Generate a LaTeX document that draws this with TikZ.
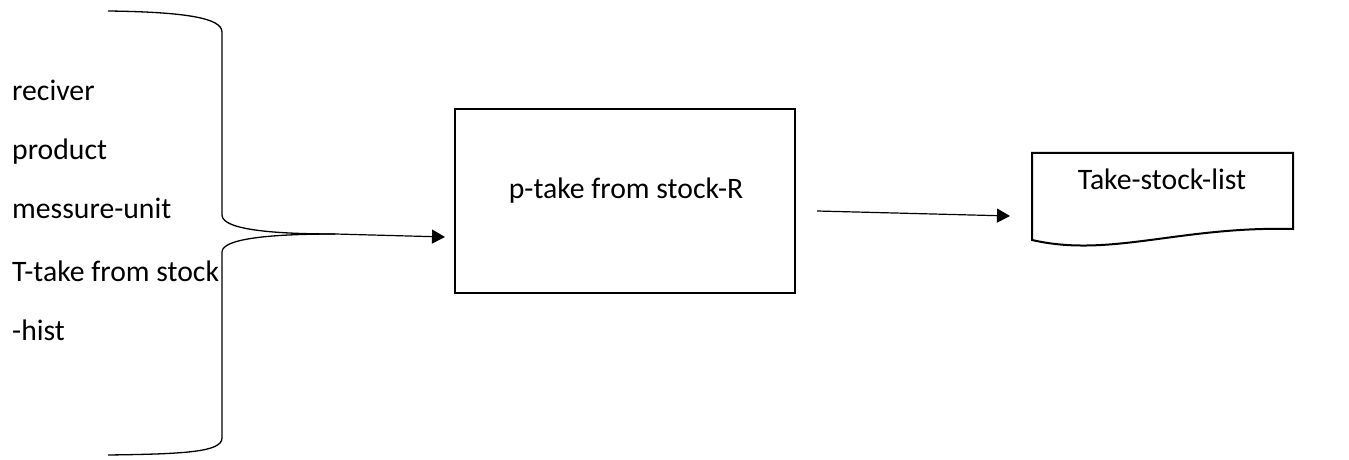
\documentclass[tikz,border=0pt]{standalone}
\usepackage{fontspec}
\setmainfont{Carlito}
\usetikzlibrary{arrows.meta}
\begin{document}
\begin{tikzpicture}[x=1pt,y=1pt,
  every node/.style={font=\fontsize{29.7}{35}\selectfont, inner sep=0pt},
  bracestyle/.style={line width=1.3pt},
  boxstyle/.style={draw, line width=2pt},
  flowarrow/.style={line width=1.2pt, -{Triangle[length=13pt,width=14pt]}},
  lbl/.style={anchor=base west}]
\useasboundingbox (0,0) rectangle (1349,460);
% brace
\coordinate (btop) at (108,449);
\coordinate (tip) at (335,226);
\coordinate (bbot) at (108,5);
\draw[bracestyle] (btop) .. controls (185,448) and (222,442) .. (222,428)
  -- (222,245) .. controls (222,230) and (275,226) .. (tip);
\draw[bracestyle] (tip) .. controls (275,226) and (222,222) .. (222,208)
  -- (222,22) .. controls (222,8) and (185,6) .. (bbot);
% labels
\node[lbl] (l1) at (12,359) {reciver};
\node[lbl] (l2) at (12,300) {product};
\node[lbl] (l3) at (12,241) {messure-unit};
\node[lbl] (l4) at (12,178) {T-take from stock};
\node[lbl] (l5) at (12,119) {-hist};
% process box
\node[boxstyle, minimum width=340pt, minimum height=184pt] (proc) at (625,259) {};
\node[anchor=base] (proct) at (626,261) {p-take from stock-R};
% document shape
\draw[line width=2pt] (1032,240) -- (1032,307) -- (1293,307) -- (1293,231)
  .. controls (1180,234) and (1110,202) .. (1032,220) -- cycle;
\coordinate (docw) at (1010,244);
\node[anchor=base] (doc) at (1162,270) {Take-stock-list};
% arrows
\coordinate (a1end) at (445,223);
\coordinate (a2start) at (817,249);
\draw[flowarrow] (tip) -- (a1end);
\draw[flowarrow] (a2start) -- (docw);
\end{tikzpicture}
\end{document}
